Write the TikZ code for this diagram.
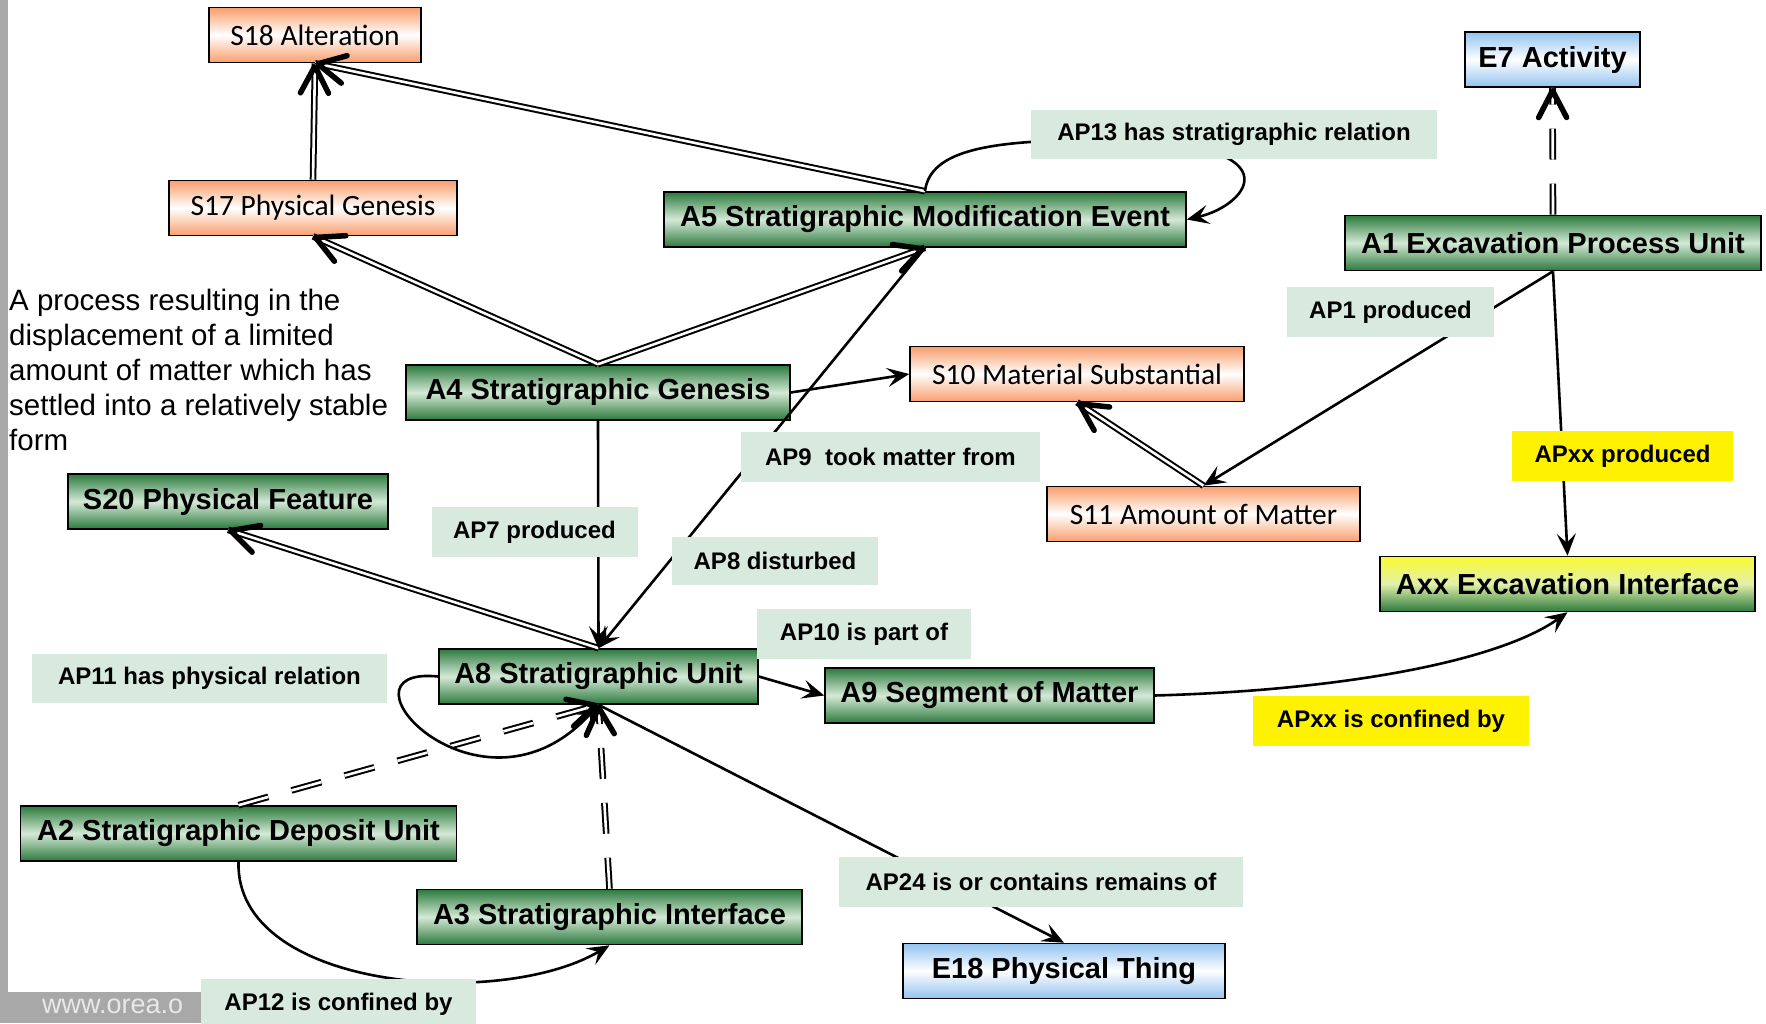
\documentclass[tikz,border=0pt]{standalone}
\usepackage{fontspec}
\setmainfont{Liberation Sans}
\newfontfamily\calibri{Carlito}
\usepackage{xcolor}
\usepackage{tikz}
\usetikzlibrary{shapes.misc, positioning, arrows.meta}
\usetikzlibrary{decorations.markings,shapes.geometric}

\definecolor{boxgreen}{RGB}{44,122,62}
\definecolor{lightgreen}{RGB}{212,233,214}
\definecolor{labelgreen}{RGB}{216,233,221}
\definecolor{boxorange}{RGB}{249,158,108}
\definecolor{boxblue}{RGB}{146,194,240}
\definecolor{boxyellow}{RGB}{250,250,50}
\definecolor{paleyellow}{RGB}{226,240,170}
\definecolor{barcolor}{RGB}{168,168,168}
\definecolor{urlcolor}{RGB}{232,232,232}

\tikzset{
	cls/.style={draw, line width=1.6pt, minimum height=55pt, inner sep=2pt, font=\fontsize{29}{32}\selectfont\bfseries},
	arch/.style={cls, top color=boxgreen, bottom color=boxgreen, middle color=lightgreen},
	crm/.style={cls, top color=boxblue, bottom color=boxblue, middle color=white},
	sci/.style={cls, top color=boxorange, bottom color=boxorange, middle color=white, font=\calibri\fontsize{29.5}{32}\selectfont},
	newcls/.style={cls, top color=boxyellow, bottom color=boxgreen, middle color=paleyellow},
	prop/.style={fill=labelgreen, minimum height=50pt, inner sep=2pt, font=\fontsize{24}{26}\selectfont\bfseries},
	newprop/.style={prop, fill=yellow},
	rel/.style={line width=2.6pt, -{Stealth[length=22pt, width=19pt, inset=9pt]}},
	isa/.style={double, double distance=2.6pt, line width=2pt,
		postaction={decorate, decoration={markings, mark=at position 1 with {\arrow[line width=5.5pt, solid]{Straight Barb[length=27pt, width=28pt, round]}}}}},
	isadash/.style={isa, dash pattern=on 31pt off 24pt}
}

\begin{document}
\begin{tikzpicture}[x=1pt, y=1pt]
	\useasboundingbox (0,0) rectangle (1766,-1023);
	% frame of the slide
	\fill[barcolor] (0,0) rectangle (8,-1023);
	\fill[barcolor] (0,-992) rectangle (320,-1023);
	\node[anchor=base west, inner sep=0pt, text=urlcolor, font=\fontsize{27}{28}\selectfont] (url) at (42,-1013) {www.orea.o};

	% classes
	\node[sci, minimum width=212pt] at (315,-35) (S18) {S18 Alteration};
	\node[sci, minimum width=288pt] at (313,-208) (S17) {S17 Physical Genesis};
	\node[arch, minimum width=522pt] at (925,-219.5) (A5) {A5 Stratigraphic Modification Event};
	\node[arch, minimum width=384pt] at (598,-392.5) (A4) {A4 Stratigraphic Genesis};
	\node[sci, minimum width=334pt] at (1077,-374) (S10) {S10 Material Substantial};
	\node[sci, minimum width=313pt] at (1203.5,-514) (S11) {S11 Amount of Matter};
	\node[crm, minimum width=175pt] at (1552.5,-59.5) (E7) {E7 Activity};
	\node[arch, minimum width=416pt] at (1553,-243) (A1) {A1 Excavation Process Unit};
	\node[newcls, minimum width=375pt] at (1567.5,-584) (Axx) {Axx Excavation Interface};
	\node[arch, minimum width=320pt] at (228,-501.5) (S20) {S20 Physical Feature};
	\node[arch, minimum width=319pt] at (598.5,-676.5) (A8) {A8 Stratigraphic Unit};
	\node[arch, minimum width=329pt] at (989.5,-695.5) (A9) {A9 Segment of Matter};
	\node[arch, minimum width=436pt] at (238.5,-833.5) (A2) {A2 Stratigraphic Deposit Unit};
	\node[arch, minimum width=385pt] at (609.5,-917) (A3) {A3 Stratigraphic Interface};
	\node[crm, minimum width=322pt] at (1064,-971) (E18) {E18 Physical Thing};

	\node[anchor=north west, align=left, inner sep=0pt, font=\fontsize{29.5}{35}\selectfont] at (9,-289) (def) {A process resulting in the\\displacement of a limited\\amount of matter which has\\settled into a relatively stable\\form};

	% subclass links
	\draw[isa] (S17.north) -- (S18.south);
	\draw[isa] (A5.north) -- (S18.south);
	\draw[isa] (A4.north) -- (S17.south);
	\draw[isa] (A4.north) -- (A5.south);
	\draw[isa] (S11.north) -- (S10.south);
	\draw[isa] (A8.north) -- (S20.south);
	\draw[isadash] (A1.north) -- (E7.south);
	\draw[isadash] (A2.north) -- (A8.south);
	\draw[isadash] (A3.north) -- (A8.south);

	% properties
	\draw[rel] (A5.north) .. controls (930,-150) and (990,-140) .. (1100,-140) .. controls (1300,-140) and (1250,-205) .. (A5.east);
	\draw[rel] (A4.east) -- (S10.west);
	\draw[rel] (A4.south) -- (A8.north);
	\draw[rel] (A5.south) -- (A8.north);
	\draw[rel] (A1.south) -- (S11.north);
	\draw[rel] (A1.south) -- (Axx.north);
	\draw[rel] (A8.east) -- (A9.west);
	\draw[rel] (A9.east) .. controls (1350,-690) and (1500,-660) .. (Axx.south);
	\draw[rel] (A8.west) .. controls (325,-665) and (480,-835) .. (A8.south);
	\draw[rel] (A2.south) .. controls (235,-990) and (500,-1010) .. (A3.south);
	\draw[rel] (A8.south) -- (E18.north);

	% property labels
	\node[prop, minimum width=406pt, minimum height=49pt] at (1234,-134.5) (AP13) {AP13 has stratigraphic relation};
	\node[prop, minimum width=207pt] at (1390.5,-312) (AP1) {AP1 produced};
	\node[newprop, minimum width=221pt] at (1622.5,-456) (APxxP) {APxx produced};
	\node[newprop, minimum width=276pt] at (1391,-721) (APxxC) {APxx is confined by};
	\node[prop, minimum width=214pt] at (864,-634) (AP10) {AP10 is part of};
	\node[prop, minimum width=206pt, minimum height=48pt] at (775,-561) (AP8) {AP8 disturbed};
	\node[prop, minimum width=206pt] at (534.5,-532) (AP7) {AP7 produced};
	\node[prop, minimum width=299pt] at (890.5,-457) (AP9) {AP9\ \ took matter from};
	\node[prop, minimum width=355pt, minimum height=49pt] at (209.5,-678.5) (AP11) {AP11 has physical relation};
	\node[prop, minimum width=404pt] at (1041,-882) (AP24) {AP24 is or contains remains of};
	\node[prop, minimum width=275pt] at (338.5,-1004) (AP12) {AP12 is confined by};
\end{tikzpicture}
\end{document}
